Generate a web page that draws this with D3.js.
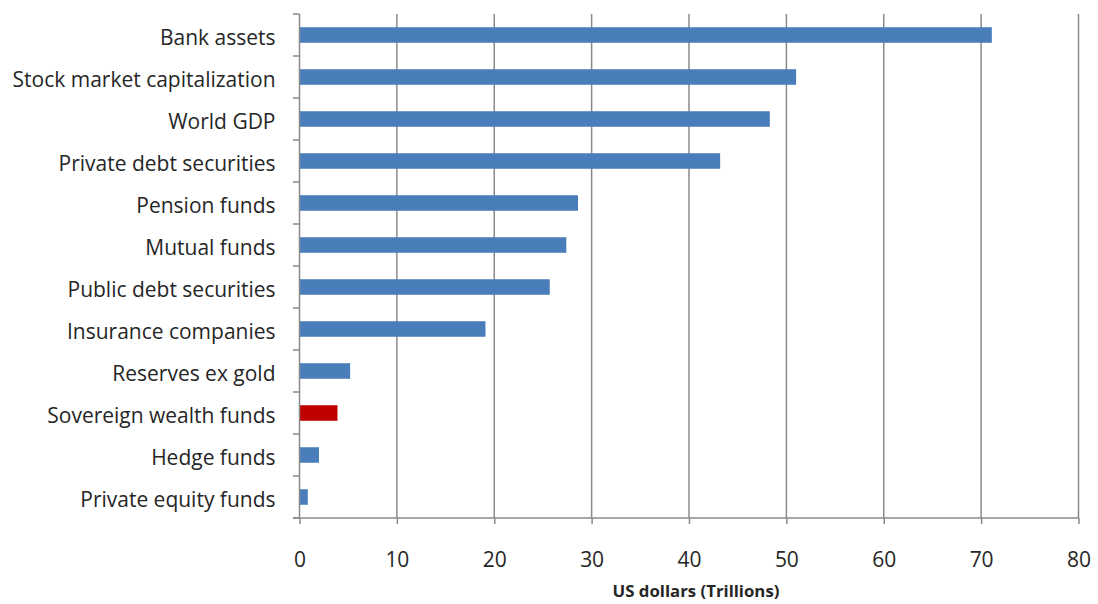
<!DOCTYPE html>
<html>
<head>
<meta charset="utf-8">
<script src="https://cdn.jsdelivr.net/npm/d3@7"></script>
<style>
  html, body { margin: 0; padding: 0; background: #fff; }
  svg { display: block; }
</style>
</head>
<body>
<svg id="chart" width="1098" height="604"></svg>
<script>
const categories = [
  "Bank assets",
  "Stock market capitalization",
  "World GDP",
  "Private debt securities",
  "Pension funds",
  "Mutual funds",
  "Public debt securities",
  "Insurance companies",
  "Reserves ex gold",
  "Sovereign wealth funds",
  "Hedge funds",
  "Private equity funds"
];
const values = [71.1, 51.0, 48.3, 43.2, 28.6, 27.4, 25.7, 19.1, 5.2, 3.9, 2.0, 0.85];
const highlighted = ["Sovereign wealth funds"];
const xTicks = [0, 10, 20, 30, 40, 50, 60, 70, 80];
const xTitle = "US dollars (Trillions)";

const W = 1098, H = 604;
const margin = { top: 14, right: 19.5, bottom: 86, left: 299.5 };
const FONT = "Open Sans, 'Noto Sans', sans-serif";
const gridColor = "#8a8a8a";
const textColor = "#262626";

const svg = d3.select("#chart");
const x = d3.scaleLinear().domain([0, 80]).range([margin.left, W - margin.right]);
const pIn = 0.63;
const y = d3.scaleBand().domain(categories)
  .range([margin.top, H - margin.bottom])
  .paddingInner(pIn).paddingOuter(pIn / 2);

const data = categories.map((c, i) => ({ cat: c, val: values[i] }));

// gridlines
svg.append("g").selectAll("line")
  .data(xTicks.filter(t => t > 0))
  .join("line")
  .attr("x1", d => x(d)).attr("x2", d => x(d))
  .attr("y1", margin.top).attr("y2", H - margin.bottom)
  .attr("stroke", gridColor).attr("stroke-width", 1.5);

// bars
svg.append("g").selectAll("rect")
  .data(data)
  .join("rect")
  .attr("x", x(0))
  .attr("y", d => y(d.cat))
  .attr("width", d => x(d.val) - x(0))
  .attr("height", y.bandwidth())
  .attr("fill", d => highlighted.includes(d.cat) ? "#c00000" : "#4a7ebb");

// x axis
const xAxis = svg.append("g")
  .attr("transform", `translate(0,${H - margin.bottom})`)
  .call(d3.axisBottom(x).tickValues(xTicks).tickSizeInner(6).tickSizeOuter(0).tickPadding(28));
xAxis.select(".domain").remove();
xAxis.selectAll(".tick line").attr("stroke", gridColor).attr("stroke-width", 1.5);
xAxis.append("line")
  .attr("x1", x(0) - 6.5).attr("x2", x(80))
  .attr("y1", 0).attr("y2", 0)
  .attr("stroke", gridColor).attr("stroke-width", 1.5);
xAxis.selectAll(".tick text")
  .attr("fill", textColor).attr("font-family", FONT);

// y axis labels
const yAxis = svg.append("g")
  .attr("transform", `translate(${x(0)},0)`)
  .call(d3.axisLeft(y).tickSize(0).tickPadding(24));
yAxis.select(".domain").remove();
yAxis.selectAll(".tick text")
  .attr("y", 3)
  .attr("fill", textColor).attr("font-family", FONT);

// y axis line + boundary ticks
const step = y.step();
const bounds = d3.range(categories.length + 1).map(i => margin.top + i * step);
yAxis.append("line")
  .attr("x1", 0).attr("x2", 0)
  .attr("y1", margin.top).attr("y2", H - margin.bottom)
  .attr("stroke", gridColor).attr("stroke-width", 1.5);
yAxis.selectAll(".btick").data(bounds).join("line")
  .attr("class", "btick")
  .attr("x1", -6.5).attr("x2", 0)
  .attr("y1", d => d).attr("y2", d => d)
  .attr("stroke", gridColor).attr("stroke-width", 1.5);

// fit font sizes by measurement
function fit(sel, target, measureNode) {
  sel.attr("font-size", 20);
  const w = measureNode.getComputedTextLength();
  const fs = 20 * target / w;
  sel.attr("font-size", fs);
  return fs;
}
const yTexts = yAxis.selectAll(".tick text");
const longest = yTexts.filter(d => d === "Stock market capitalization").node();
const fs = fit(yTexts, 263, longest);
xAxis.selectAll(".tick text").attr("font-size", fs);

// axis title
const title = svg.append("text")
  .attr("x", 696).attr("y", 597)
  .attr("text-anchor", "middle")
  .attr("font-family", FONT)
  .attr("font-weight", "bold")
  .attr("fill", textColor)
  .text(xTitle);
fit(title, 167, title.node());
</script>
</body>
</html>
